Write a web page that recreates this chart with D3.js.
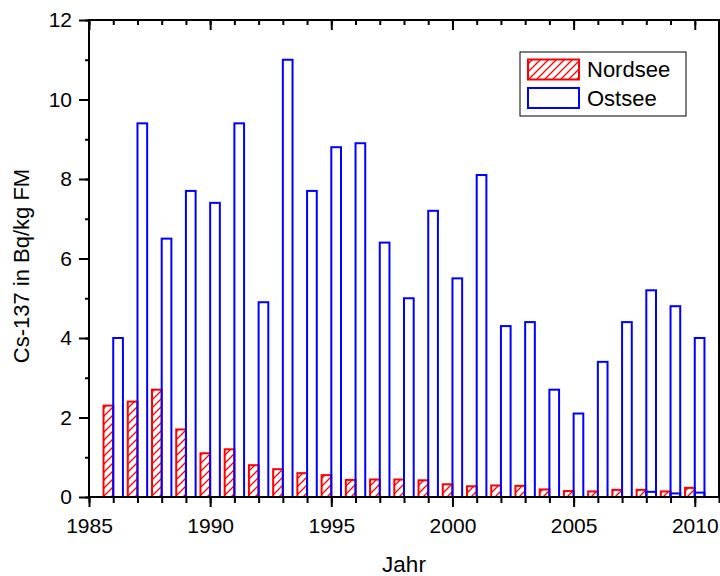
<!DOCTYPE html>
<html>
<head>
<meta charset="utf-8">
<script src="https://cdn.jsdelivr.net/npm/d3@7"></script>
<style>
  html, body { margin: 0; padding: 0; background: #fff; }
  svg { display: block; font-family: Arial, "Liberation Sans", sans-serif; }
</style>
</head>
<body>
<svg id="chart" width="720" height="576"></svg>
<script>
const years = [1986,1987,1988,1989,1990,1991,1992,1993,1994,1995,1996,1997,1998,1999,2000,2001,2002,2003,2004,2005,2006,2007,2008,2009,2010];
const nordsee = [2.3,2.4,2.7,1.7,1.1,1.2,0.8,0.7,0.6,0.55,0.43,0.44,0.44,0.42,0.32,0.27,0.29,0.28,0.19,0.15,0.14,0.18,0.18,0.14,0.23];
const ostsee = [4.0,9.4,6.5,7.7,7.4,9.4,4.9,11.0,7.7,8.8,8.9,6.4,5.0,7.2,5.5,8.1,4.3,4.4,2.7,2.1,3.4,4.4,5.2,4.8,4.0];
const ostseeExtraYears = [2008,2009,2010];
const ostseeExtra = [0.13,0.09,0.11];
const xTicks = [1985,1990,1995,2000,2005,2010];
const yTicks = [0,2,4,6,8,10,12];
const seriesNames = ["Nordsee","Ostsee"];
const xTitle = "Jahr";
const yTitle = "Cs-137 in Bq/kg FM";

const svg = d3.select("#chart");
const L = 89, R = 719, T = 20, B = 497;
const x = d3.scaleLinear().domain([1985, 2011]).range([L, R]);
const y = d3.scaleLinear().domain([0, 12]).range([B, T]);
const bw = 0.4;
const red = "rgb(255,0,0)", blue = "rgb(0,0,255)";
const FONT = "Arial, 'Liberation Sans', sans-serif";

// hatch pattern
const defs = svg.append("defs");
const pat = defs.append("pattern").attr("id","hatch").attr("patternUnits","userSpaceOnUse")
  .attr("width",8).attr("height",8);
pat.append("rect").attr("width",8).attr("height",8).attr("fill","#ffffff");
pat.append("path").attr("d","M-2,2 L2,-2 M0,8 L8,0 M6,10 L10,6")
  .attr("fill","none").attr("stroke",red).attr("stroke-width",1.3);

// Nordsee bars
svg.append("g").selectAll("rect").data(years).join("rect")
  .attr("x", d => x(d - bw))
  .attr("width", d => x(d) - x(d - bw))
  .attr("y", (d,i) => y(nordsee[i]))
  .attr("height", (d,i) => y(0) - y(nordsee[i]))
  .attr("fill","url(#hatch)").attr("stroke",red).attr("stroke-width",2);

// Ostsee bars
svg.append("g").selectAll("rect").data(years).join("rect")
  .attr("x", d => x(d))
  .attr("width", d => x(d + bw) - x(d))
  .attr("y", (d,i) => y(ostsee[i]))
  .attr("height", (d,i) => y(0) - y(ostsee[i]))
  .attr("fill","none").attr("stroke",blue).attr("stroke-width",2);

svg.append("g").selectAll("rect").data(ostseeExtraYears).join("rect")
  .attr("x", d => x(d))
  .attr("width", d => x(d + bw) - x(d))
  .attr("y", (d,i) => y(ostseeExtra[i]))
  .attr("height", (d,i) => y(0) - y(ostseeExtra[i]))
  .attr("fill","none").attr("stroke",blue).attr("stroke-width",2);

// axes
const minorX = d3.range(1985, 2012, 1);
const minorY = d3.range(0, 13, 1);
function styleAxis(g) {
  g.select(".domain").remove();
  g.selectAll(".tick line").attr("stroke","#000").attr("stroke-width",2);
}
const fs = 21;
// bottom
svg.append("g").attr("transform",`translate(0,${B})`)
  .call(d3.axisBottom(x).tickValues(minorX).tickSize(6).tickFormat(""))
  .call(styleAxis);
svg.append("g").attr("transform",`translate(0,${B})`)
  .call(d3.axisBottom(x).tickValues(xTicks).tickSize(10).tickFormat(d3.format("d")))
  .call(styleAxis)
  .call(g => g.selectAll("text").attr("y",36).attr("dy",0).attr("font-size",fs)
    .attr("fill","#000").attr("font-family",FONT));
// top
svg.append("g").attr("transform",`translate(0,${T})`)
  .call(d3.axisBottom(x).tickValues(minorX).tickSize(5).tickFormat(""))
  .call(styleAxis);
svg.append("g").attr("transform",`translate(0,${T})`)
  .call(d3.axisBottom(x).tickValues(xTicks).tickSize(10).tickFormat(""))
  .call(styleAxis);
// left
svg.append("g").attr("transform",`translate(${L},0)`)
  .call(d3.axisLeft(y).tickValues(minorY).tickSize(4).tickFormat(""))
  .call(styleAxis);
svg.append("g").attr("transform",`translate(${L},0)`)
  .call(d3.axisLeft(y).tickValues(yTicks).tickSize(10).tickPadding(7).tickFormat(d3.format("d")))
  .call(styleAxis)
  .call(g => g.selectAll("text").attr("font-size",fs).attr("fill","#000").attr("font-family",FONT));
// right
svg.append("g").attr("transform",`translate(${R},0)`)
  .call(d3.axisLeft(y).tickValues(minorY).tickSize(-5).tickFormat(""))
  .call(styleAxis);
svg.append("g").attr("transform",`translate(${R},0)`)
  .call(d3.axisLeft(y).tickValues(yTicks).tickSize(-10).tickFormat(""))
  .call(styleAxis);

// frame
svg.append("rect").attr("x",L).attr("y",T).attr("width",R-L).attr("height",B-T)
  .attr("fill","none").attr("stroke","#000").attr("stroke-width",2);

// titles
svg.append("text").attr("x", 404).attr("y", 572).attr("text-anchor","middle")
  .attr("font-size",22.5).attr("fill","#000").text(xTitle);
svg.append("text").attr("transform",`translate(29,266) rotate(-90)`)
  .attr("text-anchor","middle").attr("font-size",22).attr("fill","#000").text(yTitle);

// legend
const lg = svg.append("g");
lg.append("rect").attr("x",520).attr("y",52).attr("width",166).attr("height",64)
  .attr("fill","#fff").attr("stroke","#000").attr("stroke-width",1);
const sw = [{fill:"url(#hatch)", stroke:red},{fill:"none", stroke:blue}];
seriesNames.forEach((n,i) => {
  lg.append("rect").attr("x",528).attr("y",59.5 + i*28.5).attr("width",51).attr("height",20)
    .attr("fill",sw[i].fill).attr("stroke",sw[i].stroke).attr("stroke-width",2);
  lg.append("text").attr("x",587).attr("y",77 + i*28.5).attr("font-size",22).attr("fill","#000").text(n);
});
</script>
</body>
</html>
